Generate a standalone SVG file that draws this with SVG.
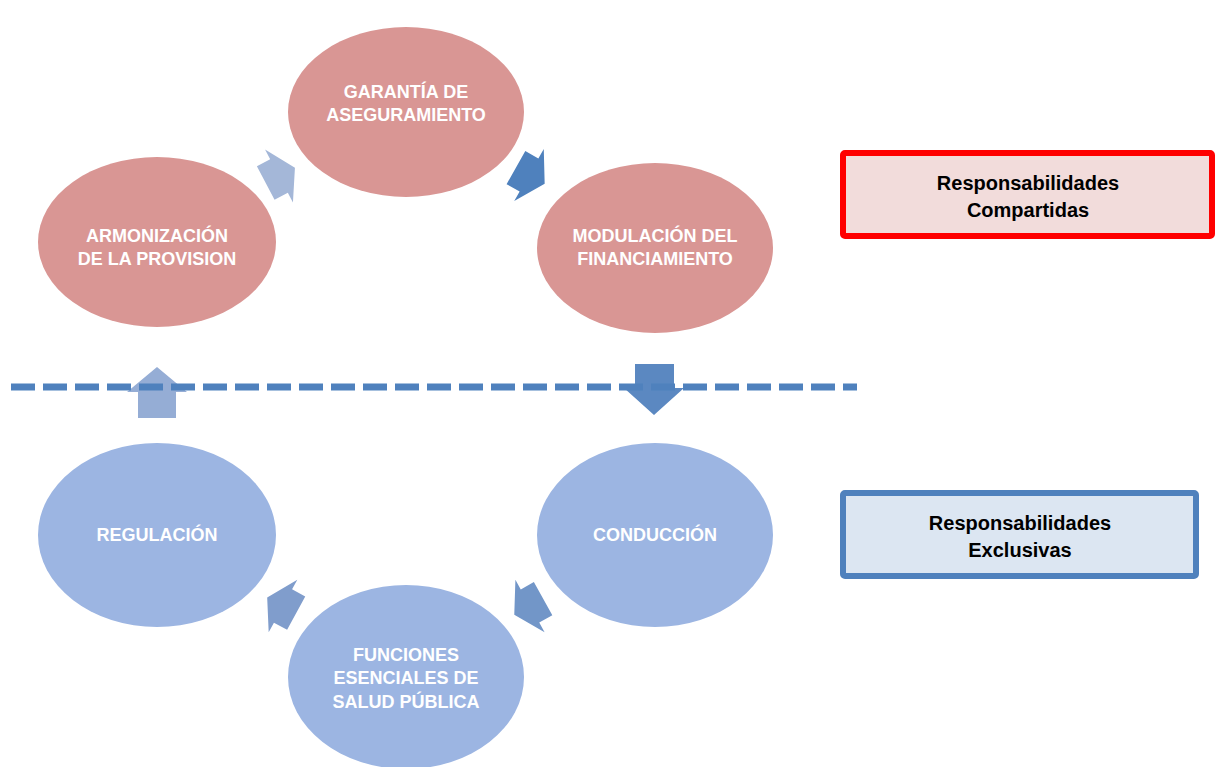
<svg xmlns="http://www.w3.org/2000/svg" width="1221" height="767" viewBox="0 0 1221 767">
  <style>
    .shared { fill: #D99694; }
    .exclusive { fill: #9CB5E2; }
    .label { font-family: "Liberation Sans", Arial, sans-serif; font-weight: bold; font-size: 18px; fill: #FFFFFF; text-anchor: middle; }
    .legend { font-family: "Liberation Sans", Arial, sans-serif; font-weight: bold; font-size: 20px; fill: #000000; text-anchor: middle; }
  </style>
  <defs>
    <!-- block arrow, origin at the middle of the head's base, pointing along +x -->
    <path id="blockArrow" d="M-15,-19 H0 V-30 L18,0 L0,30 V19 H-15 Z"/>
  </defs>

  <rect width="1221" height="767" fill="#FFFFFF"/>

  <!-- cycle nodes -->
  <g id="node-garantia">
    <ellipse class="shared" cx="406" cy="112" rx="118" ry="85"/>
    <text class="label" x="406" y="98">GARANTÍA DE</text>
    <text class="label" x="406" y="121">ASEGURAMIENTO</text>
  </g>
  <g id="node-modulacion">
    <ellipse class="shared" cx="655" cy="248" rx="118" ry="85"/>
    <text class="label" x="655" y="242">MODULACIÓN DEL</text>
    <text class="label" x="655" y="265">FINANCIAMIENTO</text>
  </g>
  <g id="node-conduccion">
    <ellipse class="exclusive" cx="655" cy="535" rx="118" ry="92"/>
    <text class="label" x="655" y="541">CONDUCCIÓN</text>
  </g>
  <g id="node-funciones">
    <ellipse class="exclusive" cx="406" cy="677" rx="118" ry="92"/>
    <text class="label" x="406" y="661">FUNCIONES</text>
    <text class="label" x="406" y="684">ESENCIALES DE</text>
    <text class="label" x="406" y="708">SALUD PÚBLICA</text>
  </g>
  <g id="node-regulacion">
    <ellipse class="exclusive" cx="157" cy="535" rx="119" ry="92"/>
    <text class="label" x="157" y="541">REGULACIÓN</text>
  </g>
  <g id="node-armonizacion">
    <ellipse class="shared" cx="157" cy="242" rx="119" ry="85"/>
    <text class="label" x="157" y="242">ARMONIZACIÓN</text>
    <text class="label" x="157" y="265">DE LA PROVISION</text>
  </g>

  <!-- connectors between the nodes -->
  <g id="connectors">
    <use href="#blockArrow" fill="#A4B7D8" transform="translate(279,176) rotate(-27.7)"/>
    <use href="#blockArrow" fill="#4F81BD" transform="translate(529,175) rotate(29.5)"/>
    <path d="M635,364 H674 V388 H684 L654,415 L624,388 H635 Z" fill="#5B88C1"/>
    <use href="#blockArrow" fill="#7296C8" transform="translate(530,606) rotate(150.9)"/>
    <use href="#blockArrow" fill="#809DCC" transform="translate(283,606) rotate(-151.5)"/>
    <path d="M138,418 V392 H127 L157,367 L187,392 H176 V418 Z" fill="#95ADD5"/>
  </g>

  <!-- divider between shared and exclusive responsibilities -->
  <g id="divider">
    <line x1="11" y1="387" x2="857" y2="387" stroke="#4F81BD" stroke-width="7" stroke-dasharray="24 8"/>
  </g>

  <!-- legend -->
  <g id="legend-compartidas">
    <rect x="843" y="153" width="369" height="83" rx="2" fill="#F2DCDB" stroke="#FF0000" stroke-width="6"/>
    <text class="legend" x="1028" y="190">Responsabilidades</text>
    <text class="legend" x="1028" y="217">Compartidas</text>
  </g>
  <g id="legend-exclusivas">
    <rect x="843" y="493" width="353" height="83" rx="2" fill="#DCE6F2" stroke="#4F81BD" stroke-width="6"/>
    <text class="legend" x="1020" y="530">Responsabilidades</text>
    <text class="legend" x="1020" y="557">Exclusivas</text>
  </g>
</svg>
